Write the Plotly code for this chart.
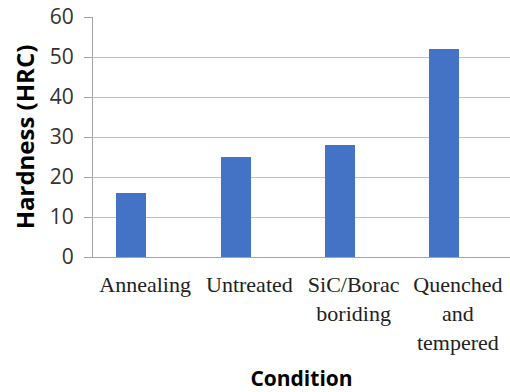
import plotly.graph_objects as go

categories = ["Annealing", "Untreated", "SiC/Borac<br>boriding", "Quenched<br>and<br>tempered"]
hardness = [16, 25, 28, 52]
y_ticks = [0, 10, 20, 30, 40, 50, 60]

fig = go.Figure()
fig.add_trace(go.Bar(
    x=categories, y=hardness,
    marker=dict(color="#4472C4", line=dict(width=0)),
    width=0.29, offset=-0.277,
))
fig.update_layout(
    width=510, height=392,
    margin=dict(l=93, r=0, t=17, b=135),
    paper_bgcolor="white", plot_bgcolor="white",
    showlegend=False,
    bargap=0,
)
fig.update_xaxes(
    range=[-0.5, 3.5], automargin=False,
    showgrid=False,
    showline=True, linecolor="#a6a6a6", linewidth=1,
    ticks="", ticklabelstandoff=8,
    tickfont=dict(family="Liberation Serif", size=22, color="#222222"),
    title=dict(text="<b>Condition</b>", font=dict(family="Open Sans", size=21, color="black"), standoff=20),
    tickangle=0,
)
fig.update_yaxes(
    range=[0, 60], tickvals=y_ticks, automargin=True,
    showgrid=True, gridcolor="#bfbfbf", gridwidth=1,
    showline=True, linecolor="#a6a6a6", linewidth=1,
    ticks="outside", ticklen=8, tickcolor="#a6a6a6",
    ticklabelstandoff=6,
    tickfont=dict(family="Open Sans", size=21, color="#333333"),
    title=dict(text="<b>Hardness (HRC)</b>", font=dict(family="Open Sans", size=24, color="black"), standoff=8),
    zeroline=False,
)
fig.write_html(
    "out.html",
    config={"displayModeBar": False},
    post_script="document.body.style.margin='0';",
)
